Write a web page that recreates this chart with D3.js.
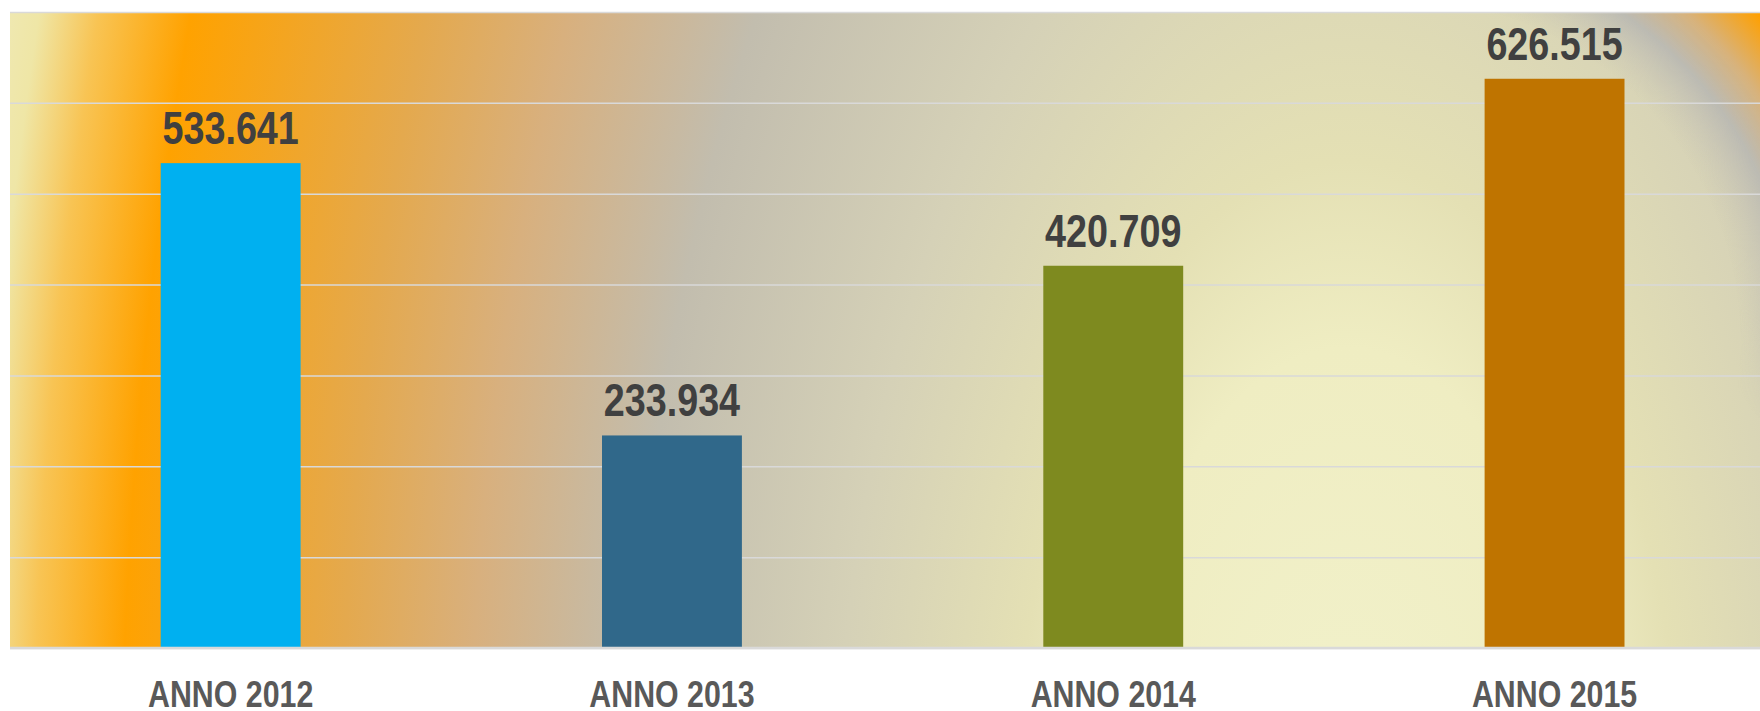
<html>
<head>
<meta charset="utf-8">
<script src="https://d3js.org/d3.v7.min.js"></script>
<style>
  body { margin: 0; background: #fff; }
  svg { display: block; }
</style>
</head>
<body>
<svg width="1760" height="711"></svg>
<script>

// data
var categories = ["ANNO 2012", "ANNO 2013", "ANNO 2014", "ANNO 2015"];
var values = [533641, 233934, 420709, 626515];
var barColors = ["#00b0f0", "#30688a", "#7e8a1f", "#bf7400"];
var gridTicks = [0, 100000, 200000, 300000, 400000, 500000, 600000, 700000];

var svg = d3.select("svg");
var W = 1760;
var plotLeft = 10, plotTop = 12, plotBottom = 648;

var x = d3.scaleBand().domain(categories).range([plotLeft, plotLeft + 4 * 441.3])
    .paddingInner(0.683).paddingOuter(0.3415);
var y = d3.scaleLinear().domain([0, 700000]).range([plotBottom, plotTop]);

// italian number format 533.641
var it = d3.formatLocale({decimal: ",", thousands: ".", grouping: [3], currency: ["€", ""]});
var fmt = it.format(",");

var narrowFont = "'Liberation Sans Narrow', 'Arial Narrow', 'Liberation Sans', Arial, sans-serif";

// background gradients
var defs = svg.append("defs");
var cx = 1347, cy = 842;
var bg = defs.append("radialGradient").attr("id", "bg")
    .attr("gradientUnits", "userSpaceOnUse")
    .attr("cx", cx).attr("cy", cy).attr("r", 1398)
    .attr("gradientTransform", "translate(" + cx + "," + cy + ") scale(1,2.03) translate(" + (-cx) + "," + (-cy) + ")");
[[0, "#f2f2cc"], [0.174, "#efedc2"], [0.24, "#e4e0b4"], [0.365, "#d5d1b7"], [0.513, "#c2bdae"],
 [0.628, "#d8b07e"], [0.72, "#e4a94e"], [0.877, "#ffa200"], [0.94, "#f8c454"], [0.98, "#efe6a6"], [1, "#efe8b0"]]
  .forEach(function(s) { bg.append("stop").attr("offset", s[0]).attr("stop-color", s[1]); });

// top-right corner arc (grey ring then orange in the corner)
var tr = defs.append("radialGradient").attr("id", "tr")
    .attr("gradientUnits", "userSpaceOnUse")
    .attr("cx", 1400).attr("cy", 340).attr("r", 500);
[[0, "#c8c4b4", 0], [0.68, "#c8c4b4", 0], [0.79, "#b9b8b2", 0.9], [0.87, "#d8b27a", 1], [0.97, "#ffa000", 1], [1, "#ffa000", 1]]
  .forEach(function(s) { tr.append("stop").attr("offset", s[0]).attr("stop-color", s[1]).attr("stop-opacity", s[2]); });

// keep that arc in the corner only
var fade = defs.append("linearGradient").attr("id", "fade")
    .attr("gradientUnits", "userSpaceOnUse")
    .attr("x1", 1601).attr("y1", 127).attr("x2", 1553).attr("y2", 166);
fade.append("stop").attr("offset", 0).attr("stop-color", "#fff");
fade.append("stop").attr("offset", 1).attr("stop-color", "#000");
defs.append("mask").attr("id", "trmask").attr("maskUnits", "userSpaceOnUse")
    .attr("x", 0).attr("y", 0).attr("width", 1760).attr("height", 711)
  .append("rect").attr("x", 0).attr("y", 0).attr("width", 1760).attr("height", 711).attr("fill", "url(#fade)");

svg.append("rect").attr("x", plotLeft).attr("y", plotTop).attr("width", W - plotLeft).attr("height", plotBottom - plotTop)
    .attr("fill", "url(#bg)");
svg.append("rect").attr("x", plotLeft).attr("y", plotTop).attr("width", W - plotLeft).attr("height", plotBottom - plotTop)
    .attr("fill", "url(#tr)").attr("mask", "url(#trmask)");

// gridlines
var grid = svg.append("g").attr("transform", "translate(" + plotLeft + ",0)")
    .call(d3.axisLeft(y).tickValues(gridTicks).tickSize(-(W - plotLeft)).tickFormat(""));
grid.select(".domain").remove();
grid.selectAll("line").attr("stroke", "#d9d9d9").attr("stroke-width", 1.5);

// bars
svg.append("g").selectAll("rect")
  .data(values)
  .join("rect")
    .attr("x", function(d, i) { return x(categories[i]); })
    .attr("y", function(d) { return y(d); })
    .attr("width", x.bandwidth())
    .attr("height", function(d) { return y(0) - y(d); })
    .attr("fill", function(d, i) { return barColors[i]; });

// baseline
svg.append("line").attr("x1", plotLeft).attr("x2", W).attr("y1", y(0)).attr("y2", y(0))
    .attr("stroke", "#d9d9d9").attr("stroke-width", 2.5);

// value labels (squeezed to look like arial narrow)
svg.append("g").selectAll("text")
  .data(values)
  .join("text")
    .attr("transform", function(d, i) {
        return "translate(" + (x(categories[i]) + x.bandwidth() / 2) + "," + (y(d) - 19) + ") scale(0.82,1)";
    })
    .attr("text-anchor", "middle")
    .attr("font-family", narrowFont)
    .attr("font-weight", "bold")
    .attr("font-size", "46px")
    .attr("fill", "#404040")
    .text(function(d) { return fmt(d); });

// category axis
var xa = svg.append("g").attr("transform", "translate(0," + plotBottom + ")")
    .call(d3.axisBottom(x).tickSize(0));
xa.select(".domain").remove();
xa.selectAll("text")
    .attr("y", 0).attr("dy", 0)
    .attr("transform", "translate(0,58.5) scale(0.82,1)")
    .attr("font-family", narrowFont)
    .attr("font-weight", "bold")
    .attr("font-size", "37px")
    .attr("fill", "#595959");

</script>
</body>
</html>
